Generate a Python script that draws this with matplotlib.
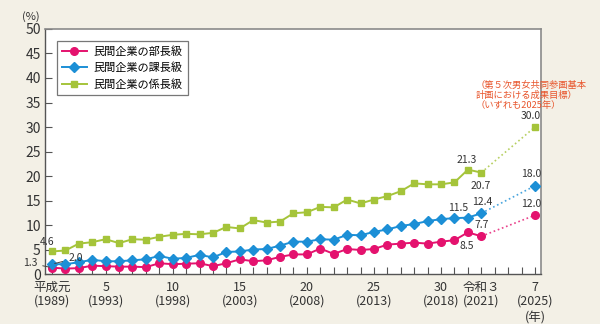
import numpy as np
import matplotlib.pyplot as plt

plt.rcParams['font.family'] = ['Noto Sans CJK JP', 'DejaVu Sans']

years = list(range(1989, 2022))
bucho = [1.3, 1.1, 1.2, 1.7, 1.6, 1.5, 1.5, 1.4, 2.2, 2.0, 2.1, 2.2, 1.6, 2.2,
         3.0, 2.6, 2.8, 3.5, 4.0, 4.0, 5.2, 4.1, 5.1, 4.9, 5.1, 6.0, 6.2, 6.4,
         6.2, 6.6, 6.9, 8.5, 7.7]
kacho = [2.0, 2.0, 2.4, 2.9, 2.6, 2.6, 2.8, 3.0, 3.7, 3.1, 3.3, 3.9, 3.4, 4.5,
         4.6, 5.0, 5.1, 5.8, 6.6, 6.6, 7.1, 7.0, 8.0, 7.9, 8.6, 9.1, 9.8, 10.2,
         10.8, 11.2, 11.4, 11.5, 12.4]
kakari = [4.6, 4.8, 6.2, 6.5, 7.1, 6.3, 7.1, 7.0, 7.6, 8.0, 8.2, 8.1, 8.4, 9.6,
          9.3, 11.0, 10.5, 10.7, 12.4, 12.6, 13.7, 13.6, 15.2, 14.4, 15.2, 15.9,
          16.9, 18.5, 18.3, 18.3, 18.7, 21.3, 20.7]
target_year = 2025
targets = [12.0, 18.0, 30.0]

names = ['民間企業の部長級', '民間企業の課長級', '民間企業の係長級']
colors = ['#e4126e', '#1c8fd6', '#a5c43a']
markers = ['o', 'D', 's']
msizes = [5.5, 5, 5]

xtick_pos = [1989, 1993, 1998, 2003, 2008, 2013, 2018, 2021, 2025]
xtick_lab = ['平成元\n(1989)', '5\n(1993)', '10\n(1998)', '15\n(2003)',
             '20\n(2008)', '25\n(2013)', '30\n(2018)', '令和３\n(2021)',
             '7\n(2025)']

bg = '#f3f0e6'
fig = plt.figure(figsize=(6, 3.24), dpi=100, facecolor=bg)
ax = fig.add_axes([0.075, 0.1543, 0.8267, 0.7562])
ax.set_facecolor('white')

for s, c, m, ms, nm in zip([bucho, kacho, kakari], colors, markers, msizes, names):
    ax.plot(years, s, color=c, marker=m, markersize=ms, linewidth=1.4, label=nm,
            zorder=3)
for s, t, c, m, ms in zip([bucho, kacho, kakari], targets, colors, markers, msizes):
    ax.plot([years[-1], target_year], [s[-1], t], color=c, linestyle=':',
            linewidth=1.2, alpha=0.8, zorder=2)
    ax.plot([target_year], [t], color=c, marker=m, markersize=ms,
            linestyle='none', zorder=3)

ax.set_xlim(1988.48, 2025.45)
ax.set_ylim(0, 50)
ax.set_yticks(np.arange(0, 51, 5))
ax.set_xticks(xtick_pos)
ax.set_xticklabels(xtick_lab, fontsize=9, color='#333333', linespacing=1.1)
ax.set_xticks(range(1989, 2026), minor=True)
ax.tick_params(axis='x', which='both', direction='in', length=5, width=0.8,
               color='#555555', pad=5)
ax.tick_params(axis='y', direction='in', length=5, width=0.8, color='#555555',
               labelsize=10, labelcolor='#333333', pad=3)
for sp in ['left', 'bottom']:
    ax.spines[sp].set_color('#555555')
    ax.spines[sp].set_linewidth(1.0)
for sp in ['top', 'right']:
    ax.spines[sp].set_color('#8a8a8a')
    ax.spines[sp].set_linewidth(1.2)

fig.text(0.037, 0.94, '(%)', fontsize=8, color='#333333')
fig.text(0.893, 0.008, '(年)', fontsize=9, color='#333333', ha='center')

leg = ax.legend(loc='upper left', bbox_to_anchor=(0.012, 0.975), fontsize=8,
                frameon=True, fancybox=False, edgecolor='#555555',
                handlelength=2.2, borderpad=0.5, labelspacing=0.5,
                handletextpad=0.6)
leg.get_frame().set_linewidth(0.9)

lab = dict(fontsize=7.5, color='#333333')
ax.annotate('4.6', (1989, 4.6), xytext=(-9, 5), textcoords='offset points', **lab)
ax.annotate('2.0', (1989, 2.0), xytext=(1990.2, 3.2), ha='left', va='center',
            arrowprops=dict(arrowstyle='-', color='#444444', lw=0.7), **lab)
ax.annotate('1.3', (1989, 1.3), xytext=(1987.9, 2.2), ha='right', va='center',
            annotation_clip=False,
            arrowprops=dict(arrowstyle='-', color='#444444', lw=0.7), **lab)
ax.annotate('21.3', (2020, 21.3), xytext=(-8, 5), textcoords='offset points', **lab)
ax.annotate('20.7', (2021, 20.7), xytext=(-8, -12), textcoords='offset points', **lab)
ax.annotate('11.5', (2020, 11.5), xytext=(-14, 5), textcoords='offset points', **lab)
ax.annotate('12.4', (2021, 12.4), xytext=(-7, 6), textcoords='offset points', **lab)
ax.annotate('8.5', (2020, 8.5), xytext=(-6, -12), textcoords='offset points', **lab)
ax.annotate('7.7', (2021, 7.7), xytext=(-5, 6), textcoords='offset points', **lab)
ax.annotate('30.0', (2025, 30.0), xytext=(-10, 6), textcoords='offset points', **lab)
ax.annotate('18.0', (2025, 18.0), xytext=(-10, 6), textcoords='offset points', **lab)
ax.annotate('12.0', (2025, 12.0), xytext=(-10, 6), textcoords='offset points', **lab)

fig.text(0.793, 0.66, '（第５次男女共同参画基本\n計画における成果目標）\n（いずれも2025年）',
         fontsize=6.7, color='#e8552c', va='bottom', linespacing=1.15)

plt.savefig('out.png', dpi=100, facecolor=bg)
